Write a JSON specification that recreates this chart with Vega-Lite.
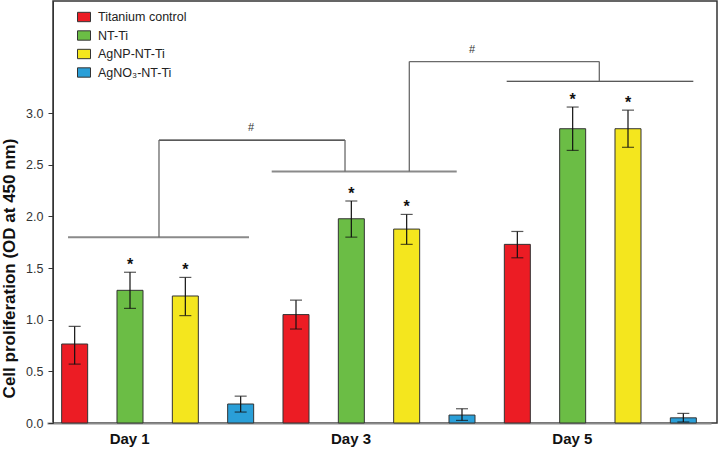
{
  "$schema": "https://vega.github.io/schema/vega-lite/v6.json",
  "width": 664,
  "height": 422,
  "autosize": {"type": "none"},
  "padding": {"left": 53, "top": 1, "right": 4, "bottom": 26},
  "config": {
    "view": {"stroke": "#333", "strokeWidth": 1.5},
    "font": "Liberation Sans"
  },
  "datasets": {
    "bars": [
      {"day": "Day 1", "group": "Titanium control", "mean": 0.765, "lo": 0.57, "hi": 0.935, "sig": ""},
      {"day": "Day 1", "group": "NT-Ti", "mean": 1.285, "lo": 1.11, "hi": 1.46, "sig": "*"},
      {"day": "Day 1", "group": "AgNP-NT-Ti", "mean": 1.23, "lo": 1.04, "hi": 1.41, "sig": "*"},
      {"day": "Day 1", "group": "AgNO₃-NT-Ti", "mean": 0.184, "lo": 0.106, "hi": 0.26, "sig": ""},
      {"day": "Day 3", "group": "Titanium control", "mean": 1.05, "lo": 0.91, "hi": 1.19, "sig": ""},
      {"day": "Day 3", "group": "NT-Ti", "mean": 1.978, "lo": 1.8, "hi": 2.15, "sig": "*"},
      {"day": "Day 3", "group": "AgNP-NT-Ti", "mean": 1.878, "lo": 1.73, "hi": 2.02, "sig": "*"},
      {"day": "Day 3", "group": "AgNO₃-NT-Ti", "mean": 0.077, "lo": 0.025, "hi": 0.138, "sig": ""},
      {"day": "Day 5", "group": "Titanium control", "mean": 1.73, "lo": 1.6, "hi": 1.855, "sig": ""},
      {"day": "Day 5", "group": "NT-Ti", "mean": 2.85, "lo": 2.64, "hi": 3.06, "sig": "*"},
      {"day": "Day 5", "group": "AgNP-NT-Ti", "mean": 2.85, "lo": 2.67, "hi": 3.03, "sig": "*"},
      {"day": "Day 5", "group": "AgNO₃-NT-Ti", "mean": 0.05, "lo": 0.01, "hi": 0.093, "sig": ""}
    ],
    "segments": [
      {"part": "base", "x1": -0.12, "x2": 3.151, "y1": 1.8, "y2": 1.8},
      {"part": "base", "x1": 3.561, "x2": 6.905, "y1": 2.436, "y2": 2.436},
      {"part": "top", "x1": 7.808, "x2": 11.181, "y1": 3.31, "y2": 3.31},
      {"part": "link1", "x1": 1.524, "x2": 1.524, "y1": 1.8, "y2": 2.74},
      {"part": "top", "x1": 1.524, "x2": 4.886, "y1": 2.74, "y2": 2.74},
      {"part": "link1", "x1": 4.886, "x2": 4.886, "y1": 2.74, "y2": 2.436},
      {"part": "link2", "x1": 6.048, "x2": 6.048, "y1": 2.436, "y2": 3.5},
      {"part": "link2", "x1": 6.048, "x2": 9.482, "y1": 3.5, "y2": 3.5},
      {"part": "link2", "x1": 9.482, "x2": 9.482, "y1": 3.5, "y2": 3.31}
    ],
    "marks": [
      {"label": "#", "xs": 3.187, "ys": 2.86},
      {"label": "#", "xs": 7.181, "ys": 3.61}
    ]
  },
  "layer": [
    {
      "data": {"name": "bars"},
      "layer": [
        {
          "mark": {"type": "bar", "stroke": "#333", "strokeWidth": 1},
          "encoding": {
            "x": {
              "field": "day", "type": "nominal",
              "scale": {"range": [-6, 658], "paddingInner": 0, "paddingOuter": 0},
              "axis": {
                "title": null, "ticks": false, "labelAngle": 0,
                "domainColor": "#8a8a8a", "domainWidth": 2,
                "labelFontSize": 15, "labelFontWeight": "bold", "labelColor": "#111",
                "labelPadding": 8, "labelOffset": -28
              }
            },
            "xOffset": {
              "field": "group", "type": "nominal",
              "scale": {"domain": ["Titanium control", "NT-Ti", "AgNP-NT-Ti", "AgNO₃-NT-Ti"], "paddingInner": 0.53, "paddingOuter": 0.265}
            },
            "y": {
              "field": "mean", "type": "quantitative",
              "scale": {"domain": [0, 4.087], "nice": false},
              "title": "Cell proliferation (OD at 450 nm)",
              "axis": {
                "values": [0, 0.25, 0.5, 0.75, 1, 1.25, 1.5, 1.75, 2, 2.25, 2.5, 2.75, 3],
                "labelExpr": "datum.value % 0.5 === 0 ? format(datum.value, '.1f') : ''",
                "grid": false,
                "labelFontSize": 12.5, "labelColor": "#333",
                "tickSize": {"condition": {"test": "datum.value % 0.5 !== 0", "value": 3}, "value": 5},
                "tickColor": "#333",
                "domainColor": "#333", "labelPadding": 5,
                "titleFontSize": 17, "titleFontWeight": "bold", "titleColor": "#111",
                "titleX": -43.5, "titleY": 267, "titleBaseline": "middle", "titleAngle": 270, "titleAlign": "center"
              }
            },
            "color": {
              "field": "group", "type": "nominal",
              "scale": {
                "domain": ["Titanium control", "NT-Ti", "AgNP-NT-Ti", "AgNO₃-NT-Ti"],
                "range": ["#EC1C24", "#6BBD45", "#F4E61E", "#2A9FD8"]
              },
              "legend": {
                "title": null, "orient": "none", "legendX": 24, "legendY": 9,
                "symbolType": "M-1,-0.72L1,-0.72L1,0.72L-1,0.72Z", "symbolSize": 169,
                "symbolStrokeColor": "#333", "symbolStrokeWidth": 1, "symbolOpacity": 1,
                "labelFontSize": 12.5, "labelColor": "#222", "labelOffset": 7,
                "rowPadding": 4.5, "padding": 0
              }
            }
          }
        },
        {
          "mark": {"type": "rule", "color": "#111", "strokeWidth": 1.2},
          "encoding": {
            "x": {"field": "day", "type": "nominal"},
            "xOffset": {"field": "group", "type": "nominal"},
            "y": {"field": "lo", "type": "quantitative", "title": "Cell proliferation (OD at 450 nm)"},
            "y2": {"field": "hi"}
          }
        },
        {
          "mark": {"type": "tick", "color": "#111", "size": 12, "thickness": 1.2},
          "encoding": {
            "x": {"field": "day", "type": "nominal"},
            "xOffset": {"field": "group", "type": "nominal"},
            "y": {"field": "hi", "type": "quantitative", "title": "Cell proliferation (OD at 450 nm)"}
          }
        },
        {
          "mark": {"type": "tick", "color": "#111", "size": 12, "thickness": 1.2},
          "encoding": {
            "x": {"field": "day", "type": "nominal"},
            "xOffset": {"field": "group", "type": "nominal"},
            "y": {"field": "lo", "type": "quantitative", "title": "Cell proliferation (OD at 450 nm)"}
          }
        },
        {
          "mark": {"type": "text", "fontSize": 16, "fontWeight": "bold", "color": "#111", "baseline": "alphabetic", "dy": -2},
          "encoding": {
            "x": {"field": "day", "type": "nominal"},
            "xOffset": {"field": "group", "type": "nominal"},
            "y": {"field": "hi", "type": "quantitative", "title": "Cell proliferation (OD at 450 nm)"},
            "text": {"field": "sig"}
          }
        }
      ]
    },
    {
      "layer": [
        {
          "data": {"name": "segments"},
          "transform": [{"filter": "datum.part === 'base'"}],
          "mark": {"type": "rule", "color": "#8a8a8a", "strokeWidth": 2},
          "encoding": {
            "x": {"field": "x1", "type": "quantitative", "scale": {"domain": [-0.3916, 11.609], "nice": false, "zero": false}, "axis": null},
            "x2": {"field": "x2"},
            "y": {"field": "y1", "type": "quantitative", "axis": null},
            "y2": {"field": "y2"}
          }
        },
        {
          "data": {"name": "segments"},
          "transform": [{"filter": "datum.part === 'top'"}],
          "mark": {"type": "rule", "color": "#222", "strokeWidth": 1.2},
          "encoding": {
            "x": {"field": "x1", "type": "quantitative", "axis": null},
            "x2": {"field": "x2"},
            "y": {"field": "y1", "type": "quantitative", "axis": null},
            "y2": {"field": "y2"}
          }
        },
        {
          "data": {"name": "segments"},
          "transform": [{"filter": "datum.part === 'link1' || datum.part === 'link2'"}],
          "mark": {"type": "rule", "color": "#6a6a6a", "strokeWidth": 1.3},
          "encoding": {
            "x": {"field": "x1", "type": "quantitative", "axis": null},
            "x2": {"field": "x2"},
            "y": {"field": "y1", "type": "quantitative", "axis": null},
            "y2": {"field": "y2"}
          }
        },
        {
          "data": {"name": "marks"},
          "mark": {"type": "text", "fontSize": 11, "color": "#333", "baseline": "middle"},
          "encoding": {
            "x": {"field": "xs", "type": "quantitative", "axis": null},
            "y": {"field": "ys", "type": "quantitative", "axis": null},
            "text": {"field": "label"}
          }
        }
      ]
    }
  ],
  "resolve": {"scale": {"x": "independent"}, "axis": {"y": "independent"}}
}
